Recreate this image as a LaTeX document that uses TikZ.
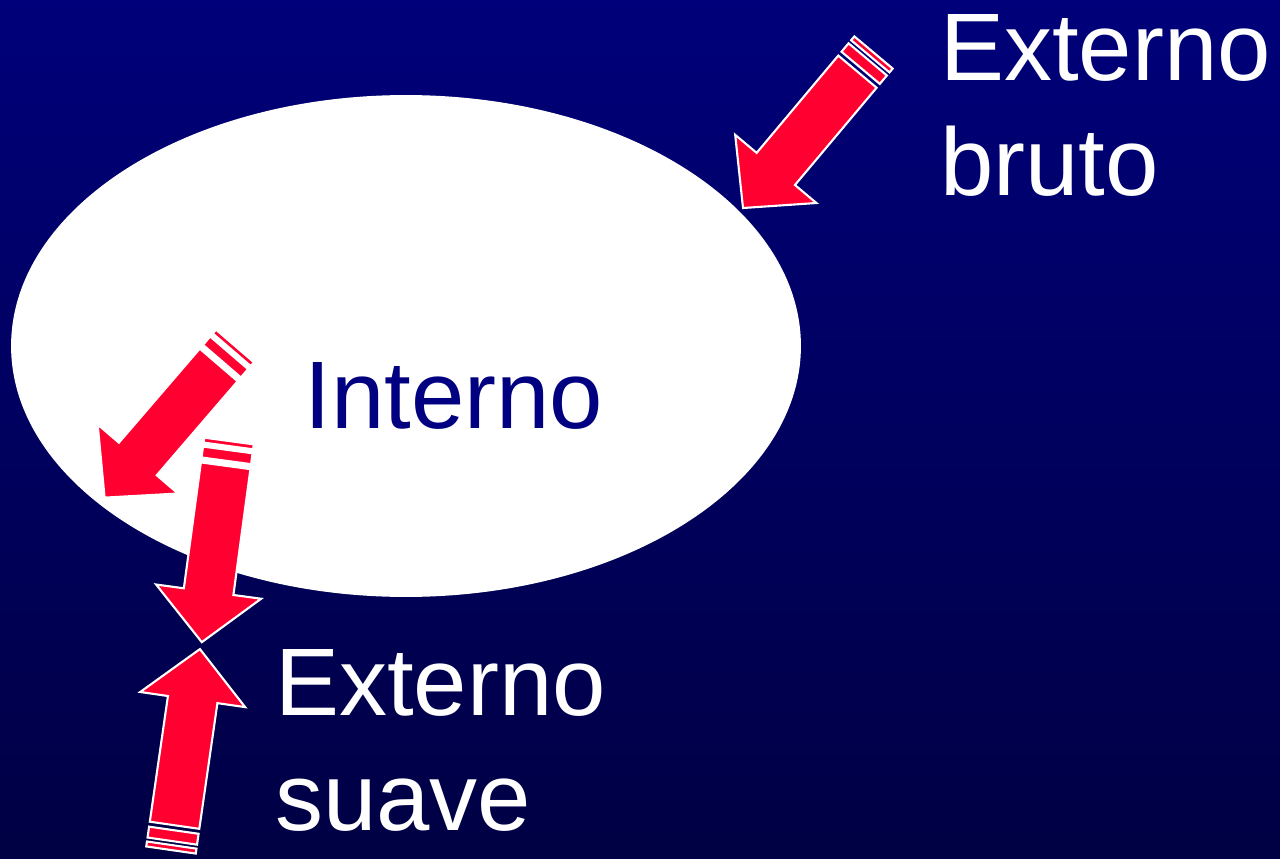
\documentclass[tikz,border=0pt]{standalone}
\usepackage{fontspec}
\setmainfont{Liberation Sans}
\usepackage{tikz}
\usetikzlibrary{shapes.geometric}
\definecolor{bgtop}{RGB}{0,0,122}
\definecolor{bgbottom}{RGB}{0,0,68}
\definecolor{arrowred}{RGB}{255,0,48}
\definecolor{innernavy}{RGB}{0,0,128}

\begin{document}
\begin{tikzpicture}[x=0.02cm,y=-0.02cm,
		big text/.style={font=\fontsize{54.6}{65}\selectfont,inner sep=0pt,align=left},
		red part/.style={fill=arrowred,draw=white,line width=1.2pt,line join=miter},
		pics/striped arrow/.style={code={
			\path[red part] (0,-25) rectangle (5,25);
			\path[red part] (9,-25) rectangle (20,25);
			\path[red part] (25,-25) -- (#1-51,-25) -- (#1-51,-53) -- (#1,0)
				-- (#1-51,53) -- (#1-51,25) -- (25,25) -- cycle;
		}}]
	\useasboundingbox (0,0) rectangle (1280,858);
	\shade[top color=bgtop,bottom color=bgbottom] (0,0) rectangle (1280,858);
	% the white region
	\node[ellipse,fill=white,inner sep=0pt,minimum width=15.8cm,minimum height=10.04cm] (inner) at (406,346) {};
	% arrows
	\pic[rotate=-130] at (873.5,52.5) {striped arrow=203};
	\pic[rotate=-130.7] at (235,346) {striped arrow=200};
	\pic[rotate=-97.7] at (229,441) {striped arrow=203};
	\pic[rotate=81.8] at (171,850) {striped arrow=203};
	% labels
	\node[big text,text=white,anchor=base west] (bruto) at (940,195) {Externo\\bruto};
	\node[big text,text=innernavy,anchor=base west] (interno) at (304,428) {Interno};
	\node[big text,text=white,anchor=base west] (suave) at (275,830) {Externo\\suave};
\end{tikzpicture}
\end{document}
